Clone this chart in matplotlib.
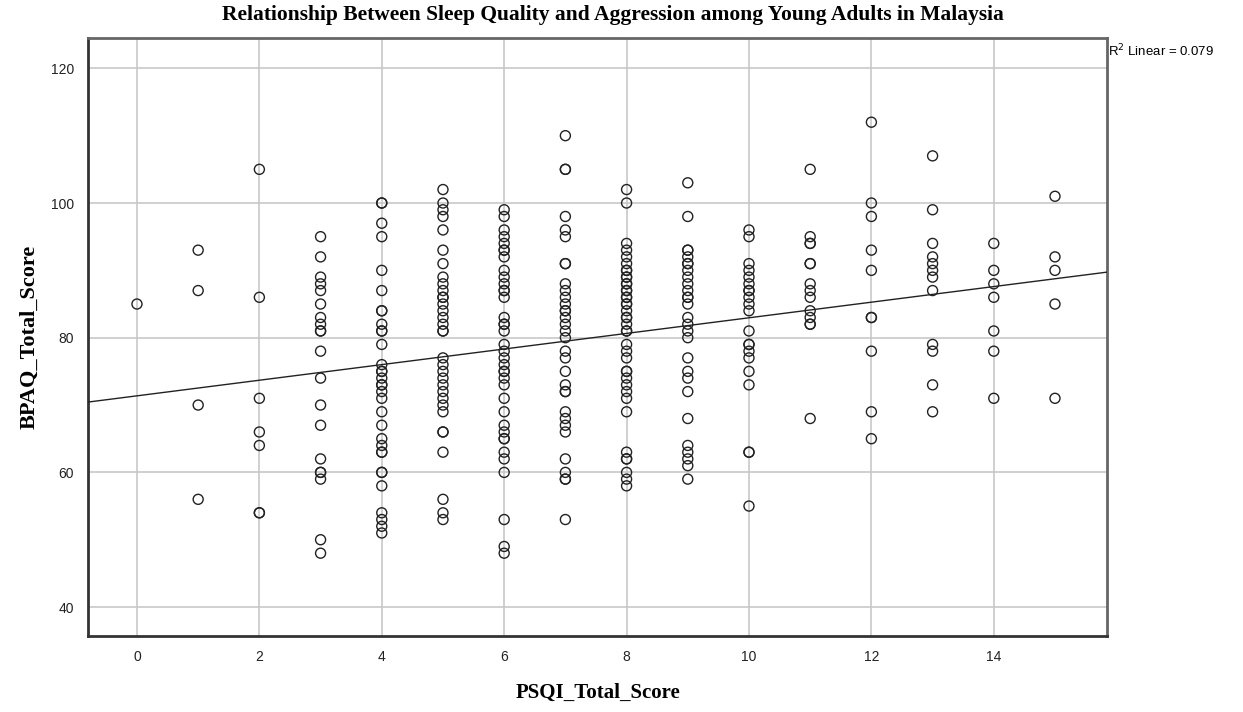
import numpy as np
import matplotlib
matplotlib.use("Agg")
import matplotlib.pyplot as plt

# PSQI score -> BPAQ scores (one list per column)
bpaq_by_psqi = {
    0: [85],
    1: [93, 87, 70, 56],
    2: [105, 86, 71, 66, 64, 54, 54],
    3: [95, 92, 89, 88, 87, 85, 83, 82, 81, 81, 78, 74, 70, 67, 62, 60, 60, 59, 50, 48],
    4: [100, 100, 97, 95, 90, 87, 84, 84, 82, 81, 81, 79, 76, 75, 75, 74, 73, 73, 72, 71,
        69, 67, 65, 64, 63, 63, 60, 60, 58, 54, 53, 52, 51],
    5: [102, 100, 99, 98, 96, 93, 91, 89, 88, 87, 86, 86, 85, 84, 83, 82, 81, 81,
        77, 76, 75, 74, 73, 72, 71, 70, 69, 66, 66, 63, 56, 54, 53],
    6: [99, 98, 96, 95, 94, 93, 93, 92, 90, 89, 88, 87, 87, 86, 83, 82, 82, 81,
        79, 78, 77, 76, 75, 75, 74, 73, 71, 69, 67, 66, 65, 65, 63, 62, 60, 53, 49, 48],
    7: [110, 105, 105, 98, 96, 95, 91, 91, 88, 87, 86, 85, 84, 84, 83, 82, 81, 80,
        78, 77, 75, 73, 72, 72, 69, 68, 67, 66, 62, 60, 59, 59, 53],
    8: [102, 100, 94, 93, 92, 91, 90, 90, 89, 89, 88, 88, 87, 87, 86, 86, 85, 85, 84,
        83, 83, 82, 81, 81, 79, 78, 77, 75, 75, 74, 73, 72, 71, 69, 63, 62, 62, 60, 59, 58],
    9: [103, 98, 93, 93, 92, 91, 91, 90, 89, 88, 87, 86, 86, 85, 83, 82, 81, 80,
        77, 75, 74, 72, 68, 64, 63, 62, 61, 59],
    10: [96, 95, 91, 90, 89, 88, 87, 87, 86, 85, 84, 81, 79, 79, 78, 77, 75, 73, 63, 63, 55],
    11: [105, 95, 94, 94, 91, 91, 88, 87, 86, 84, 83, 82, 82, 68],
    12: [112, 100, 98, 93, 90, 83, 83, 78, 69, 65],
    13: [107, 99, 94, 92, 91, 90, 89, 87, 79, 78, 73, 69],
    14: [94, 90, 88, 86, 81, 78, 71],
    15: [101, 92, 90, 85, 71],
}

psqi = np.concatenate([[k] * len(v) for k, v in bpaq_by_psqi.items()]).astype(float)
bpaq = np.concatenate([v for v in bpaq_by_psqi.values()]).astype(float)

x_ticks = [0, 2, 4, 6, 8, 10, 12, 14]
y_ticks = [40, 60, 80, 100, 120]
r2_label = "R$^2$ Linear = 0.079"

fig = plt.figure(figsize=(12.43, 7.12), dpi=100)
ax = fig.add_axes([0.0708, 0.1067, 0.8198, 0.8399])

ax.scatter(psqi, bpaq, s=52, facecolors="none", edgecolors="#222222",
           linewidths=1.0, zorder=3)

# fitted line across the whole x range
xlim = (-0.8, 15.85)
slope, intercept = np.polyfit(psqi, bpaq, 1)
xs = np.array(xlim)
ax.plot(xs, intercept + slope * xs, color="#222222", lw=1.0, zorder=4)

ax.set_xlim(*xlim)
ax.set_ylim(35.7, 124.5)
ax.set_xticks(x_ticks)
ax.set_yticks(y_ticks)
ax.grid(True, color="#c8c8c8", lw=1.2, zorder=0)
ax.set_axisbelow(True)
ax.tick_params(length=0, labelsize=10, pad=10, labelcolor="#222222")
for lab in ax.get_xticklabels() + ax.get_yticklabels():
    lab.set_family("Liberation Sans")

for side in ["left", "bottom"]:
    ax.spines[side].set_color("#333333")
    ax.spines[side].set_linewidth(2.0)
for side in ["top", "right"]:
    ax.spines[side].set_color("#666666")
    ax.spines[side].set_linewidth(2.0)

fig.text(0.493, 0.979,
         "Relationship Between Sleep Quality and Aggression among Young Adults in Malaysia",
         family="Liberation Serif", weight="bold", fontsize=15.5,
         ha="center", va="center")
ax.set_xlabel("PSQI_Total_Score", family="Liberation Serif", weight="bold",
              fontsize=15, labelpad=14)
ax.set_ylabel("BPAQ_Total_Score", family="Liberation Serif", weight="bold",
              fontsize=16, labelpad=8)

fig.text(0.8915, 0.928, r2_label, family="Liberation Sans", fontsize=9.5,
         ha="left", va="center")

fig.savefig("out.png", dpi=100)
